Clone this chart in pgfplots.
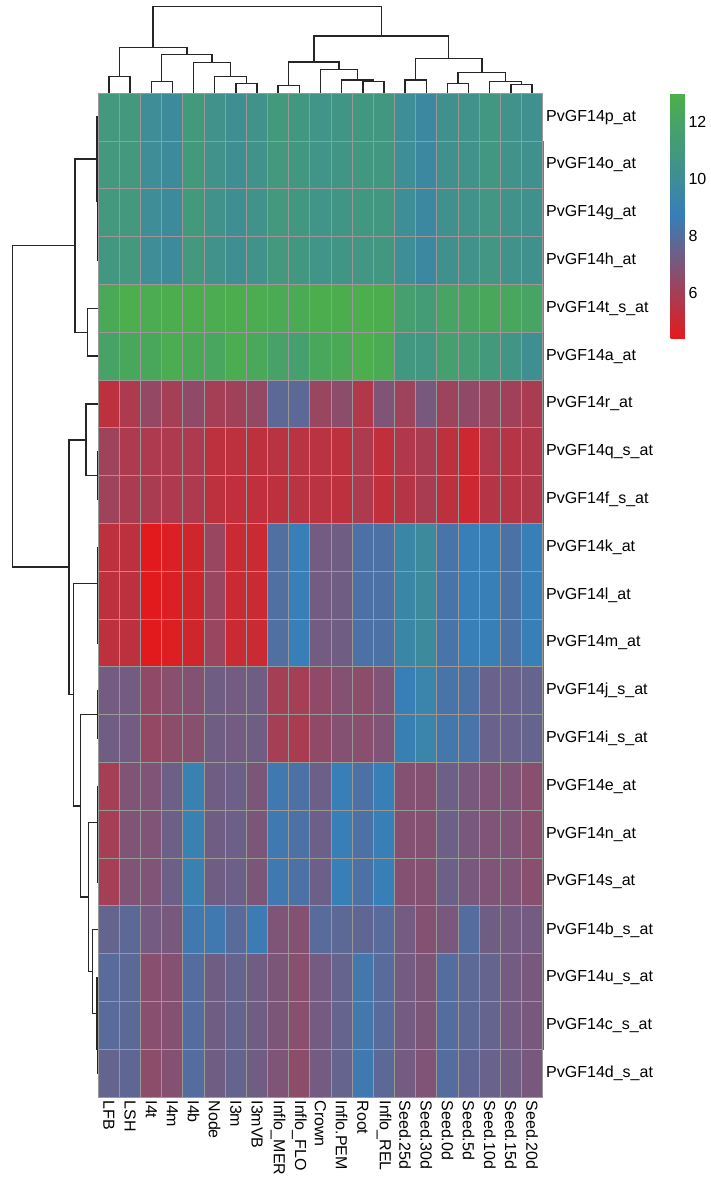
\documentclass[border=0pt]{standalone}
\usepackage{pgfplots}
\pgfplotsset{compat=1.18}
\usepackage{pgfplotstable}
\usepackage{fontspec}
\setmainfont{Liberation Sans}

% values row by row (PvGF14p_at first), columns in the plotted order
\pgfplotstableread[row sep=\\]{
v\\
11.0\\ 11.0\\ 10.0\\ 9.9\\ 11.1\\ 10.5\\ 10.2\\ 10.5\\ 11.1\\ 10.9\\ 10.6\\ 10.7\\ 10.9\\ 10.9\\ 10.1\\ 9.6\\ 10.4\\ 10.5\\ 10.9\\ 10.5\\ 10.3\\
11.0\\ 11.0\\ 10.0\\ 9.9\\ 11.1\\ 10.5\\ 10.2\\ 10.5\\ 11.0\\ 10.9\\ 10.6\\ 10.7\\ 10.9\\ 10.9\\ 10.1\\ 9.6\\ 10.4\\ 10.5\\ 10.9\\ 10.5\\ 10.4\\
11.0\\ 11.0\\ 10.0\\ 9.9\\ 11.1\\ 10.5\\ 10.2\\ 10.5\\ 11.0\\ 10.9\\ 10.6\\ 10.7\\ 10.9\\ 10.9\\ 10.1\\ 9.6\\ 10.4\\ 10.5\\ 10.8\\ 10.5\\ 10.4\\
10.9\\ 11.0\\ 10.0\\ 9.9\\ 11.0\\ 10.5\\ 10.2\\ 10.5\\ 11.0\\ 10.9\\ 10.6\\ 10.7\\ 10.8\\ 10.9\\ 10.1\\ 9.6\\ 10.4\\ 10.5\\ 10.8\\ 10.5\\ 10.4\\
12.5\\ 12.9\\ 12.7\\ 12.8\\ 12.8\\ 12.7\\ 12.8\\ 12.7\\ 12.6\\ 12.6\\ 12.8\\ 12.8\\ 12.9\\ 12.8\\ 11.6\\ 11.3\\ 12.0\\ 12.1\\ 12.3\\ 12.2\\ 12.0\\
11.9\\ 12.3\\ 12.3\\ 12.7\\ 12.5\\ 12.2\\ 12.7\\ 12.4\\ 11.8\\ 11.6\\ 12.3\\ 12.5\\ 12.9\\ 12.6\\ 10.9\\ 10.9\\ 11.6\\ 11.4\\ 11.1\\ 10.7\\ 10.2\\
5.4\\ 5.8\\ 6.4\\ 6.0\\ 6.5\\ 6.0\\ 6.1\\ 6.4\\ 7.8\\ 7.8\\ 6.3\\ 6.6\\ 5.7\\ 6.9\\ 6.2\\ 7.1\\ 6.2\\ 6.5\\ 6.3\\ 6.1\\ 5.9\\
6.2\\ 5.8\\ 5.8\\ 5.8\\ 5.8\\ 5.4\\ 5.4\\ 5.4\\ 5.5\\ 5.5\\ 5.5\\ 5.4\\ 5.8\\ 5.3\\ 5.7\\ 5.9\\ 5.4\\ 5.0\\ 5.7\\ 5.6\\ 5.7\\
6.2\\ 5.9\\ 5.9\\ 5.8\\ 5.8\\ 5.4\\ 5.3\\ 5.3\\ 5.4\\ 5.5\\ 5.5\\ 5.4\\ 5.8\\ 5.3\\ 5.6\\ 5.9\\ 5.4\\ 5.0\\ 5.6\\ 5.6\\ 5.7\\
5.4\\ 5.4\\ 4.45\\ 4.65\\ 4.9\\ 6.3\\ 5.1\\ 5.1\\ 8.1\\ 8.7\\ 7.2\\ 7.3\\ 8.2\\ 8.2\\ 9.4\\ 9.8\\ 8.3\\ 8.7\\ 8.7\\ 8.2\\ 8.7\\
5.4\\ 5.4\\ 4.45\\ 4.65\\ 4.9\\ 6.3\\ 5.1\\ 5.1\\ 8.1\\ 8.7\\ 7.2\\ 7.3\\ 8.2\\ 8.2\\ 9.4\\ 9.8\\ 8.3\\ 8.7\\ 8.7\\ 8.2\\ 8.7\\
5.4\\ 5.4\\ 4.45\\ 4.6\\ 4.9\\ 6.3\\ 5.1\\ 5.1\\ 8.1\\ 8.7\\ 7.2\\ 7.3\\ 8.2\\ 8.2\\ 9.4\\ 9.8\\ 8.3\\ 8.7\\ 8.7\\ 8.2\\ 8.7\\
7.2\\ 7.2\\ 6.5\\ 6.7\\ 6.8\\ 7.3\\ 7.2\\ 7.3\\ 6.0\\ 6.0\\ 6.5\\ 6.8\\ 6.6\\ 6.9\\ 8.8\\ 9.3\\ 8.3\\ 8.2\\ 7.5\\ 7.5\\ 7.6\\
7.3\\ 7.2\\ 6.4\\ 6.6\\ 6.7\\ 7.3\\ 7.2\\ 7.3\\ 6.0\\ 5.9\\ 6.5\\ 6.8\\ 6.7\\ 6.9\\ 8.9\\ 9.3\\ 8.4\\ 8.3\\ 7.5\\ 7.5\\ 7.6\\
6.0\\ 6.9\\ 6.9\\ 7.4\\ 9.0\\ 7.3\\ 7.4\\ 7.0\\ 8.5\\ 8.2\\ 7.4\\ 8.7\\ 8.2\\ 8.7\\ 6.8\\ 6.8\\ 7.4\\ 7.1\\ 6.9\\ 6.9\\ 6.7\\
6.0\\ 6.9\\ 6.9\\ 7.4\\ 9.0\\ 7.3\\ 7.4\\ 7.0\\ 8.5\\ 8.2\\ 7.4\\ 8.7\\ 8.2\\ 8.7\\ 6.8\\ 6.8\\ 7.4\\ 7.1\\ 6.9\\ 6.9\\ 6.7\\
6.0\\ 6.9\\ 6.9\\ 7.4\\ 9.0\\ 7.3\\ 7.4\\ 7.0\\ 8.5\\ 8.2\\ 7.4\\ 8.7\\ 8.2\\ 8.7\\ 6.8\\ 6.8\\ 7.4\\ 7.1\\ 6.9\\ 6.9\\ 6.7\\
7.6\\ 7.8\\ 7.2\\ 7.1\\ 8.5\\ 8.5\\ 7.9\\ 8.6\\ 6.9\\ 6.8\\ 7.9\\ 7.8\\ 7.7\\ 7.9\\ 7.2\\ 6.8\\ 7.1\\ 8.0\\ 7.3\\ 7.2\\ 7.2\\
7.9\\ 7.8\\ 6.7\\ 6.8\\ 8.0\\ 7.3\\ 7.6\\ 7.3\\ 7.0\\ 6.7\\ 7.2\\ 7.6\\ 8.4\\ 7.9\\ 7.2\\ 7.0\\ 8.0\\ 7.8\\ 7.6\\ 7.2\\ 7.1\\
7.9\\ 7.8\\ 6.7\\ 6.8\\ 8.0\\ 7.3\\ 7.6\\ 7.3\\ 7.0\\ 6.7\\ 7.2\\ 7.6\\ 8.4\\ 7.9\\ 7.2\\ 7.0\\ 8.0\\ 7.8\\ 7.6\\ 7.2\\ 7.1\\
7.6\\ 7.7\\ 6.6\\ 6.8\\ 8.0\\ 7.3\\ 7.6\\ 7.3\\ 6.9\\ 6.6\\ 7.2\\ 7.6\\ 8.5\\ 7.8\\ 7.2\\ 6.9\\ 8.0\\ 7.7\\ 7.5\\ 7.3\\ 7.1\\
}\heat

\begin{document}
\begin{tikzpicture}
\path[use as bounding box] (0pt,0pt) rectangle (711pt,1178pt);
\begin{axis}[
  at={(98.3pt,80.9pt)}, anchor=south west,
  scale only axis, width=444.4pt, height=1003.8pt,
  xmin=-0.5, xmax=20.5, ymin=-0.5, ymax=20.5,
  clip=false, axis on top,
  axis line style={draw=black!40, line width=1pt},
  xtick={0,...,20},
  xticklabels={LFB,LSH,I4t,I4m,I4b,Node,I3m,I3mVB,Inflo\_MER,Inflo\_FLO,Crown,Inflo.PEM,Root,Inflo\_REL,Seed.25d,Seed.30d,Seed.0d,Seed.5d,Seed.10d,Seed.15d,Seed.20d},
  ytick={0,...,20},
  yticklabels={PvGF14d\_s\_at,PvGF14c\_s\_at,PvGF14u\_s\_at,PvGF14b\_s\_at,PvGF14s\_at,PvGF14n\_at,PvGF14e\_at,PvGF14i\_s\_at,PvGF14j\_s\_at,PvGF14m\_at,PvGF14l\_at,PvGF14k\_at,PvGF14f\_s\_at,PvGF14q\_s\_at,PvGF14r\_at,PvGF14a\_at,PvGF14t\_s\_at,PvGF14h\_at,PvGF14g\_at,PvGF14o\_at,PvGF14p\_at},
  yticklabel pos=right,
  major tick length=0pt, minor tick length=0pt,
  minor xtick={-0.5,0.5,...,20.5},
  minor ytick={-0.5,0.5,...,20.5},
  xminorgrids, yminorgrids,
  minor grid style={draw=black!40, line width=1pt},
  tick label style={font=\fontsize{16}{19}\selectfont, text=black},
  x tick label style={rotate=-90, anchor=west},
  y tick label style={anchor=west},
  colormap={rbg}{rgb255=(228,26,28) rgb255=(55,126,184) rgb255=(77,175,74)},
  point meta min=4.43, point meta max=13,
  colorbar,
  colorbar style={
    at={(parent axis.north east)}, anchor=north west, xshift=119.3pt,
    scale only axis, width=16pt, height=245pt,
    ytick={6,8,10,12}, yticklabel pos=right,
    major tick length=0pt, axis line style={draw=none},
    yticklabel style={font=\fontsize{16}{19}\selectfont, /pgf/number format/assume math mode=true, anchor=west, xshift=-1.5pt},
  },
]
\addplot[matrix plot*, mesh/cols=21, mesh/ordering=x varies, point meta=explicit]
  table[x index=0, y index=0, x expr={mod(\coordindex,21)}, y expr={20-floor((\coordindex+0.5)/21)}, meta index=0] {\heat};

% column dendrogram
\pgfplotsset{dendro/.style={black!85, line width=1.4pt, mark=none, line join=miter, forget plot}}
\addplot[dendro] coordinates {(0,20.5)(0,20.847)(1,20.847)(1,20.5)};
\addplot[dendro] coordinates {(2,20.5)(2,20.743)(3,20.743)(3,20.5)};
\addplot[dendro] coordinates {(6,20.5)(6,20.701)(7,20.701)(7,20.5)};
\addplot[dendro] coordinates {(5,20.5)(5,20.847)(6.5,20.847)(6.5,20.701)};
\addplot[dendro] coordinates {(4,20.5)(4,21.148)(5.75,21.148)(5.75,20.847)};
\addplot[dendro] coordinates {(2.5,20.743)(2.5,21.316)(4.875,21.316)(4.875,21.148)};
\addplot[dendro] coordinates {(0.5,20.847)(0.5,21.454)(3.6875,21.454)(3.6875,21.316)};
\addplot[dendro] coordinates {(8,20.5)(8,20.659)(9,20.659)(9,20.5)};
\addplot[dendro] coordinates {(12,20.5)(12,20.751)(13,20.751)(13,20.5)};
\addplot[dendro] coordinates {(11,20.5)(11,20.778)(12.5,20.778)(12.5,20.751)};
\addplot[dendro] coordinates {(10,20.5)(10,20.994)(11.75,20.994)(11.75,20.778)};
\addplot[dendro] coordinates {(8.5,20.659)(8.5,21.155)(10.875,21.155)(10.875,20.994)};
\addplot[dendro] coordinates {(14,20.5)(14,20.778)(15,20.778)(15,20.5)};
\addplot[dendro] coordinates {(16,20.5)(16,20.701)(17,20.701)(17,20.5)};
\addplot[dendro] coordinates {(19,20.5)(19,20.68)(20,20.68)(20,20.5)};
\addplot[dendro] coordinates {(18,20.5)(18,20.751)(19.5,20.751)(19.5,20.68)};
\addplot[dendro] coordinates {(16.5,20.701)(16.5,20.939)(18.75,20.939)(18.75,20.751)};
\addplot[dendro] coordinates {(14.5,20.778)(14.5,21.224)(17.625,21.224)(17.625,20.939)};
\addplot[dendro] coordinates {(9.6875,21.155)(9.6875,21.699)(16.0625,21.699)(16.0625,21.224)};
\addplot[dendro] coordinates {(2.09375,21.454)(2.09375,22.312)(12.875,22.312)(12.875,21.699)};

% row dendrogram
\addplot[dendro] coordinates {(-0.5,18)(-0.53,18)(-0.53,17)(-0.5,17)};
\addplot[dendro] coordinates {(-0.5,19)(-0.55,19)(-0.55,17.5)(-0.53,17.5)};
\addplot[dendro] coordinates {(-0.5,20)(-0.57,20)(-0.57,18.25)(-0.55,18.25)};
\addplot[dendro] coordinates {(-0.5,16)(-1.02,16)(-1.02,15)(-0.5,15)};
\addplot[dendro] coordinates {(-0.57,19.125)(-1.6,19.125)(-1.6,15.5)(-1.02,15.5)};
\addplot[dendro] coordinates {(-0.5,13)(-0.53,13)(-0.53,12)(-0.5,12)};
\addplot[dendro] coordinates {(-0.5,14)(-1.08,14)(-1.08,12.5)(-0.53,12.5)};
\addplot[dendro] coordinates {(-0.5,10)(-0.53,10)(-0.53,9)(-0.5,9)};
\addplot[dendro] coordinates {(-0.5,11)(-0.55,11)(-0.55,9.5)(-0.53,9.5)};
\addplot[dendro] coordinates {(-0.5,8)(-0.55,8)(-0.55,7)(-0.5,7)};
\addplot[dendro] coordinates {(-0.5,5)(-0.53,5)(-0.53,4)(-0.5,4)};
\addplot[dendro] coordinates {(-0.5,6)(-0.55,6)(-0.55,4.5)(-0.53,4.5)};
\addplot[dendro] coordinates {(-0.5,1)(-0.54,1)(-0.54,0)(-0.5,0)};
\addplot[dendro] coordinates {(-0.5,2)(-0.57,2)(-0.57,0.5)(-0.54,0.5)};
\addplot[dendro] coordinates {(-0.5,3)(-0.76,3)(-0.76,1.25)(-0.57,1.25)};
\addplot[dendro] coordinates {(-0.55,5.25)(-0.97,5.25)(-0.97,2.125)(-0.76,2.125)};
\addplot[dendro] coordinates {(-0.55,7.5)(-1.33,7.5)(-1.33,3.6875)(-0.97,3.6875)};
\addplot[dendro] coordinates {(-0.55,10.25)(-1.68,10.25)(-1.68,5.59375)(-1.33,5.59375)};
\addplot[dendro] coordinates {(-1.08,13.25)(-1.88,13.25)(-1.88,7.921875)(-1.68,7.921875)};
\addplot[dendro] coordinates {(-1.6,17.3125)(-4.56,17.3125)(-4.56,10.5859375)(-1.88,10.5859375)};
\end{axis}
\end{tikzpicture}
\end{document}
